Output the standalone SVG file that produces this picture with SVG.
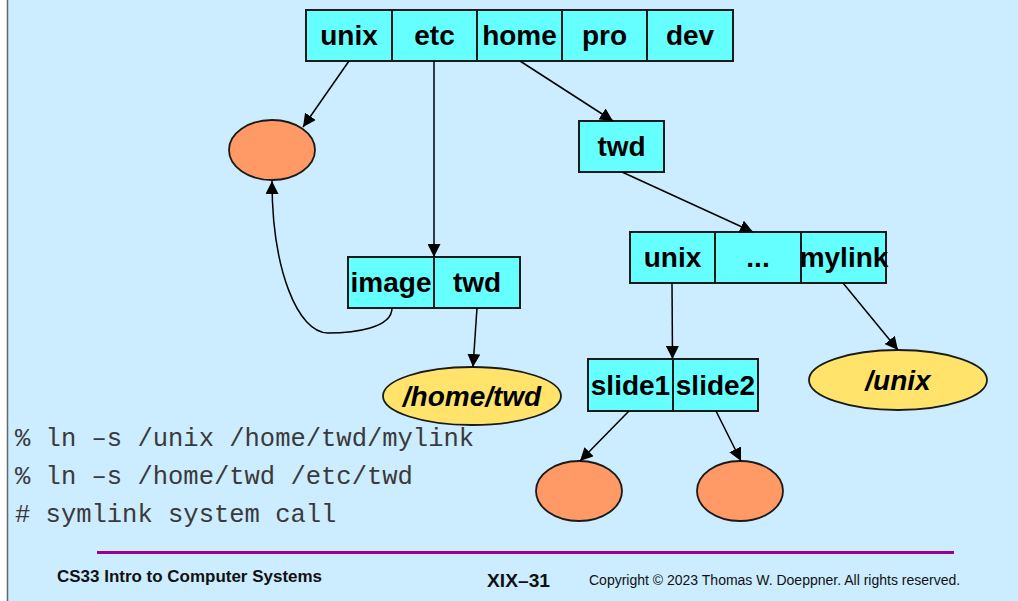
<svg xmlns="http://www.w3.org/2000/svg" width="1018" height="601" viewBox="0 0 1018 601">
<style>
.bg{fill:#CCECFF}
.cell{fill:#66FFFF;stroke:#1a1a1a;stroke-width:2}
.lbl{font-family:"Liberation Sans",Arial,sans-serif;font-weight:bold;font-size:28px;fill:#000;text-anchor:middle}
.ital{font-style:italic}
.orange{fill:#FF9966;stroke:#1a1a1a;stroke-width:1.8}
.yellow{fill:#FFE36B;stroke:#1a1a1a;stroke-width:1.8}
.conn{fill:none;stroke:#000;stroke-width:1.5;marker-end:url(#ah)}
.mono{font-family:"Liberation Mono","Courier New",monospace;font-size:25.5px;fill:#3a3a3a}
.foot{font-family:"Liberation Sans",Arial,sans-serif;fill:#111}
</style>
<defs>
<marker id="ah" markerUnits="userSpaceOnUse" markerWidth="14" markerHeight="13" refX="13" refY="6.5" orient="auto">
<path d="M0,0 L13,6.5 L0,13 z" fill="#000"/>
</marker>
</defs>
<rect x="0" y="0" width="1018" height="601" fill="#fff"/>
<rect class="bg" x="8" y="0" width="1010" height="601"/>
<line x1="7.5" y1="0" x2="7.5" y2="601" stroke="#666" stroke-width="1.5"/>

<g id="root-dir">
<rect class="cell" x="306" y="10" width="86" height="51"/>
<rect class="cell" x="392" y="10" width="85" height="51"/>
<rect class="cell" x="477" y="10" width="85" height="51"/>
<rect class="cell" x="562" y="10" width="85" height="51"/>
<rect class="cell" x="647" y="10" width="86" height="51"/>
<text class="lbl" x="349" y="45">unix</text>
<text class="lbl" x="434.5" y="45">etc</text>
<text class="lbl" x="519.5" y="45">home</text>
<text class="lbl" x="604.5" y="45">pro</text>
<text class="lbl" x="690" y="45">dev</text>
</g>

<g id="unix-file"><ellipse class="orange" cx="272" cy="150" rx="43" ry="30"/></g>

<g id="home-dir">
<rect class="cell" x="579" y="121" width="85" height="51"/>
<text class="lbl" x="621.5" y="156">twd</text>
</g>

<g id="etc-dir">
<rect class="cell" x="348" y="257" width="86" height="51"/>
<rect class="cell" x="434" y="257" width="86" height="51"/>
<text class="lbl" x="391" y="292">image</text>
<text class="lbl" x="477" y="292">twd</text>
</g>

<g id="twd-dir">
<rect class="cell" x="630" y="232" width="85" height="51"/>
<rect class="cell" x="715" y="232" width="86" height="51"/>
<rect class="cell" x="801" y="232" width="85" height="51"/>
<text class="lbl" x="672.5" y="267">unix</text>
<text class="lbl" x="758" y="267">...</text>
<text class="lbl" x="844" y="267">mylink</text>
</g>

<g id="home-twd-link">
<ellipse class="yellow" cx="472" cy="396" rx="89" ry="29"/>
<text class="lbl ital" x="472" y="406">/home/twd</text>
</g>

<g id="unix-link">
<ellipse class="yellow" cx="898" cy="380" rx="89" ry="30"/>
<text class="lbl ital" x="898" y="390">/unix</text>
</g>

<g id="unix-dir">
<rect class="cell" x="588" y="359" width="85" height="52"/>
<rect class="cell" x="673" y="359" width="85" height="52"/>
<text class="lbl" x="630.5" y="395">slide1</text>
<text class="lbl" x="715.5" y="395">slide2</text>
</g>

<g id="slide1-file"><ellipse class="orange" cx="579" cy="491" rx="43" ry="30"/></g>
<g id="slide2-file"><ellipse class="orange" cx="740" cy="491" rx="43" ry="30"/></g>

<g id="connectors">
<path class="conn" d="M349,61 L303,127"/>
<path class="conn" d="M434,61 L434,257"/>
<path class="conn" d="M520,61 L613,121"/>
<path class="conn" d="M622,172 L753,232"/>
<path class="conn" d="M392,308 C392,328 355,333 328,333 C298,333 272,270 272,181"/>
<path class="conn" d="M477,308 L473,367"/>
<path class="conn" d="M672,283 L672.5,359"/>
<path class="conn" d="M843,283 L898,350"/>
<path class="conn" d="M629,411 L580,461"/>
<path class="conn" d="M716,411 L741,461"/>
</g>

<g id="commands">
<text class="mono" x="15" y="446">% ln –s /unix /home/twd/mylink</text>
<text class="mono" x="15" y="484">% ln –s /home/twd /etc/twd</text>
<text class="mono" x="15" y="522"># symlink system call</text>
</g>

<g id="footer">
<line x1="97" y1="552.5" x2="954" y2="552.5" stroke="#990099" stroke-width="3"/>
<text class="foot" x="57" y="582" font-size="16" font-weight="bold" textLength="265" lengthAdjust="spacingAndGlyphs">CS33 Intro to Computer Systems</text>
<text class="foot" x="487" y="587" font-size="18" font-weight="bold" textLength="63" lengthAdjust="spacingAndGlyphs">XIX–31</text>
<text class="foot" x="589" y="585" font-size="14">Copyright © 2023 Thomas W. Doeppner. All rights reserved.</text>
</g>
</svg>
